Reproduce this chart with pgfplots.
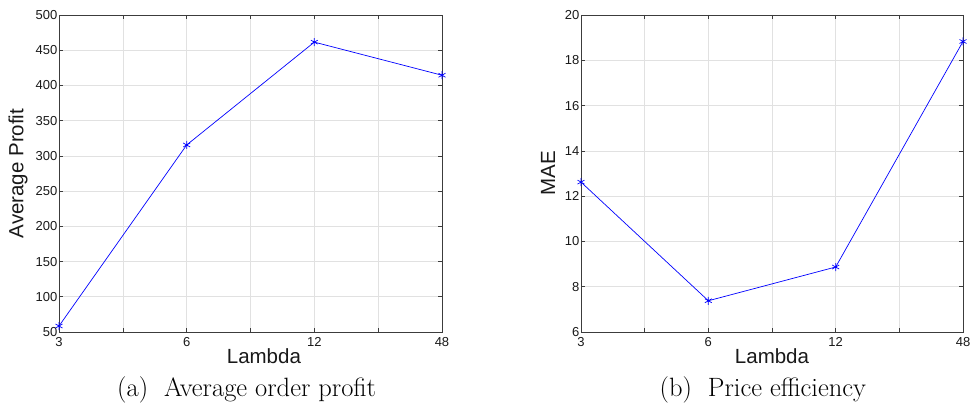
\documentclass[border=0pt]{standalone}
\usepackage{pgfplots}
\pgfplotsset{compat=1.18}
\usepackage{fontspec}
\newfontfamily\arialf{Liberation Sans}
\definecolor{gridc}{RGB}{225,225,225}
\definecolor{axc}{RGB}{60,60,60}
\pgfplotsset{
  mystyle/.style={
    scale only axis, width=383pt, height=317pt,
    xmin=0, xmax=6, xtick={0,...,6},
    xticklabels={3,,6,,12,,48},
    grid=major, major grid style={gridc, line width=0.6pt},
    axis line style={axc, line width=0.7pt},
    tick style={axc, line width=0.6pt},
    major tick length=4pt, tick align=inside, tick pos=both,
    ticklabel style={font=\arialf\fontsize{13}{15}\selectfont, text=black!90},
    /pgf/number format/assume math mode=true,
    yticklabel style={inner sep=1.5pt},
    xticklabel style={yshift=-1.5pt},
    label style={font=\arialf\fontsize{20.5}{24}\selectfont, text=black!90},
    clip=false,
  },
  myline/.style={blue, line width=0.7pt, mark=asterisk, mark size=4pt, mark options={line width=0.7pt, solid}},
}
\begin{document}
\begin{tikzpicture}[x=1pt,y=1pt]
\useasboundingbox (0,0) rectangle (974,405);
\begin{axis}[mystyle, at={(59pt,73pt)}, anchor=south west,
  ymin=50, ymax=500, ytick={50,100,...,500},
  xlabel={Lambda}, xlabel style={at={(axis description cs:0.535,-0.076)}, anchor=center},
  ylabel={Average Profit}, ylabel style={at={(axis description cs:-0.107,0.5)}, anchor=center},
]
\addplot[myline] coordinates {(0,58.5) (2,315.5) (4,461.5) (6,414.5)};
\node[font=\fontsize{26.5}{30}\selectfont, anchor=base] at (axis description cs:0.49,-0.205) {(a)\ \ Average order profit};
\end{axis}
\begin{axis}[mystyle, at={(581pt,73pt)}, anchor=south west, width=382pt,
  ymin=6, ymax=20, ytick={6,8,...,20},
  xlabel={Lambda}, xlabel style={at={(axis description cs:0.5,-0.076)}, anchor=center},
  ylabel={MAE}, ylabel style={at={(axis description cs:-0.086,0.5)}, anchor=center},
]
\addplot[myline] coordinates {(0,12.62) (2,7.38) (4,8.87) (6,18.83)};
\node[font=\fontsize{26.5}{30}\selectfont, anchor=base] at (axis description cs:0.476,-0.205) {(b)\ \ Price efficiency};
\end{axis}
\end{tikzpicture}
\end{document}
